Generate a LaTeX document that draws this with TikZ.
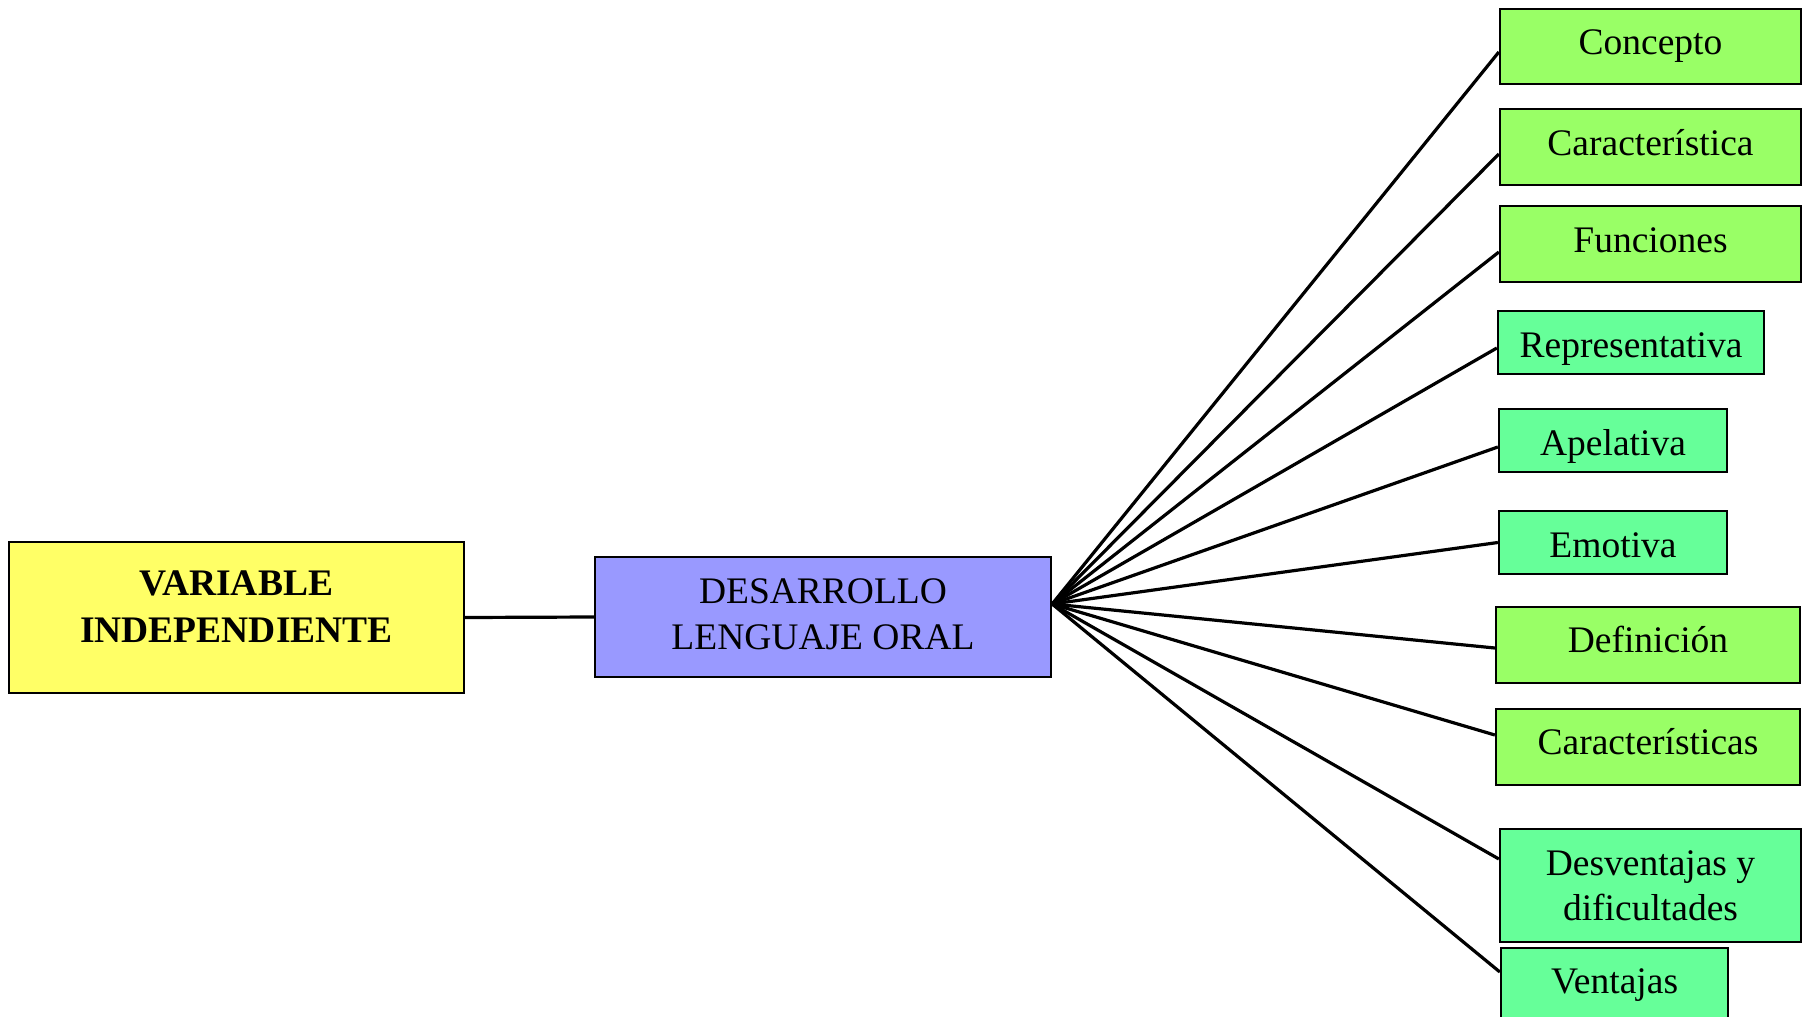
\documentclass[tikz,border=0pt]{standalone}
\usepackage{fontspec}
\setmainfont{Liberation Serif}
\definecolor{cyel}{HTML}{FFFF66}
\definecolor{cpur}{HTML}{9999FF}
\definecolor{cgrn}{HTML}{99FF66}
\definecolor{caqu}{HTML}{66FF99}
\begin{document}
\begin{tikzpicture}[x=0.5pt,y=-0.5pt,
  box/.style={draw=black,line width=1.15pt,inner sep=0pt,align=center,
    font=\fontsize{18.75}{23}\selectfont},
  gbox/.style={box,fill=cgrn},
  abox/.style={box,fill=caqu},
  bl/.style={text height=#1,text depth=0pt},
  conn/.style={line width=1.6pt,black}]
\useasboundingbox (0,0) rectangle (1802,1016);
\node[box,fill=cyel,minimum width=227.5pt,minimum height=75.5pt,bl=24.5pt,font=\fontsize{18.75}{23.5}\selectfont\bfseries] (vi) at (236.5,617.5)
  {\begin{tabular}[b]{@{}c@{}}VARIABLE\\INDEPENDIENTE\end{tabular}};
\node[box,fill=cpur,minimum width=228pt,minimum height=60pt,bl=32pt,font=\fontsize{18.75}{23}\selectfont] (dlo) at (823,617)
  {\begin{tabular}[b]{@{}c@{}}DESARROLLO\\LENGUAJE ORAL\end{tabular}};
\node[gbox,minimum width=150.5pt,minimum height=37.5pt,bl=8.5pt] (c1) at (1650.5,46.5) {Concepto};
\node[gbox,minimum width=150.5pt,minimum height=38pt,bl=9pt] (c2) at (1650.5,147) {Característica};
\node[gbox,minimum width=150.5pt,minimum height=38pt,bl=8.3pt] (c3) at (1650.5,244) {Funciones};
\node[abox,minimum width=133pt,minimum height=31.5pt,bl=15pt] (c4) at (1631,342.5) {Representativa};
\node[abox,minimum width=114pt,minimum height=31.5pt,bl=15pt] (c5) at (1613,440.5) {Apelativa};
\node[abox,minimum width=114pt,minimum height=31.5pt,bl=15pt] (c6) at (1613,542.5) {Emotiva};
\node[gbox,minimum width=152pt,minimum height=38pt,bl=7.7pt] (c7) at (1648,645) {Definición};
\node[gbox,minimum width=152pt,minimum height=38pt,bl=7pt] (c8) at (1648,747) {Características};
\node[abox,minimum width=150.5pt,minimum height=56.5pt,bl=34.5pt,font=\fontsize{18.75}{22.5}\selectfont] (c9) at (1650.5,885.5)
  {\begin{tabular}[b]{@{}c@{}}Desventajas y\\dificultades\end{tabular}};
\node[abox,minimum width=113.5pt,minimum height=38pt,bl=7.3pt] (c10) at (1614.5,986) {Ventajas};
\coordinate (hub) at ([yshift=6.5pt]dlo.east);
\draw[conn] (vi.east) -- (dlo.west);
\draw[conn] (hub) -- ([yshift=-2.75pt]c1.west);
\draw[conn] (hub) -- ([yshift=-3.5pt]c2.west);
\draw[conn] (hub) -- ([yshift=-4pt]c3.west);
\draw[conn] (hub) -- ([yshift=-2.75pt]c4.west);
\draw[conn] (hub) -- ([yshift=-3.25pt]c5.west);
\draw[conn] (hub) -- (c6.west);
\draw[conn] (hub) -- ([yshift=-1.5pt]c7.west);
\draw[conn] (hub) -- ([yshift=6pt]c8.west);
\draw[conn] (hub) -- ([yshift=13.25pt]c9.west);
\draw[conn] (hub) -- ([yshift=7pt]c10.west);
\end{tikzpicture}
\end{document}
